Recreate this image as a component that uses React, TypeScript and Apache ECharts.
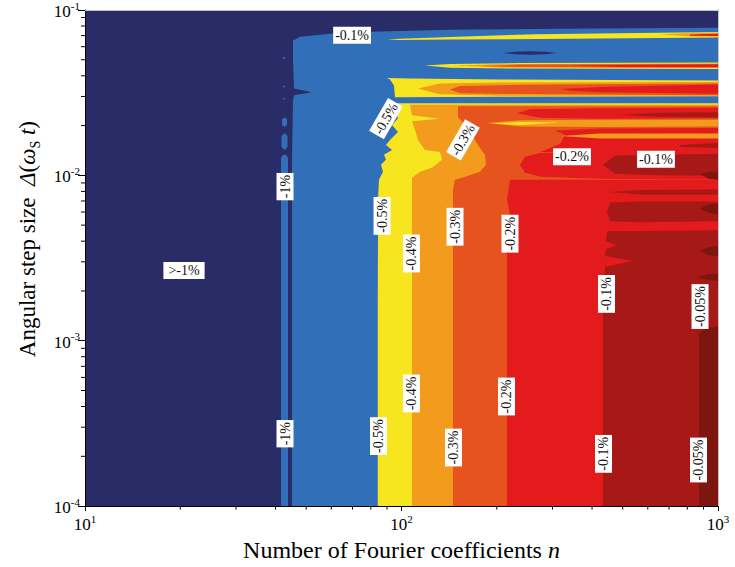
import { useEffect, useRef } from "react";
import * as echarts from "echarts";

// Vertices are [log10 n, log10 Δ(ωt)]; they are mapped through the log axes.
type Pt = [number, number];

const levelColors = ["#292c66", "#3170b8", "#f7e51f", "#f39b1c", "#e6531f", "#e31b1c", "#a61916", "#7e1610"];

const frame: Pt[] = [[1, -1], [3, -1], [3, -4], [1, -4]];

// ≥ -1 %
const blueMain: Pt[] = [[1.6572, -1.186], [1.6793, -1.162], [1.7741, -1.144], [1.9005, -1.132], [2.1532, -1.12], [2.5008, -1.114], [3, -1.108], [3, -4], [1.654, -4], [1.654, -1.906], [1.6572, -1.546], [1.6604, -1.516], [1.7172, -1.498], [1.6604, -1.474], [1.6572, -1.306]];
const navyPocket: Pt[] = [[2.3207, -1.26], [2.3586, -1.252], [2.406, -1.249], [2.4534, -1.252], [2.4913, -1.26], [2.4534, -1.268], [2.406, -1.27], [2.3586, -1.268]];
const blueStrip: Pt[] = [[1.6193, -4], [1.6414, -4], [1.6414, -1.894], [1.6351, -1.876], [1.6256, -1.876], [1.6193, -1.894]];
const blueBlobLow: Pt[] = [[1.6209, -1.762], [1.6304, -1.744], [1.6398, -1.762], [1.6398, -1.828], [1.6304, -1.846], [1.6209, -1.828]];
const blueBlobHigh: Pt[] = [[1.6225, -1.66], [1.6304, -1.648], [1.6383, -1.66], [1.6383, -1.696], [1.6304, -1.708], [1.6225, -1.696]];
const blueDotA: Pt[] = [[1.6241, -1.288], [1.6288, -1.282], [1.6335, -1.288], [1.6288, -1.3]];
const blueDotB: Pt[] = [[1.6241, -1.462], [1.6288, -1.456], [1.6335, -1.462], [1.6288, -1.468]];
const blueDotC: Pt[] = [[1.6241, -1.537], [1.6288, -1.531], [1.6335, -1.537], [1.6288, -1.543]];

// ≥ -0.5 %
const yellowTop: Pt[] = [[1.9542, -1.178], [1.9953, -1.174], [2.1532, -1.163], [2.4281, -1.146], [3, -1.133], [3, -1.166], [2.6272, -1.172], [2.1532, -1.179], [1.9953, -1.181]];
const yellowMid: Pt[] = [[2.0742, -1.336], [2.1532, -1.327], [2.3744, -1.321], [3, -1.318], [3, -1.357], [2.3744, -1.354], [2.1532, -1.349]];
const yellowBand: Pt[] = [[1.9542, -1.411], [2.0269, -1.414], [2.3112, -1.42], [3, -1.426], [3, -1.522], [2.3112, -1.525], [1.9795, -1.528], [1.9763, -1.456], [1.9637, -1.42]];
const yellowMain: Pt[] = [[1.9858, -1.564], [1.9795, -1.606], [1.9889, -1.654], [1.97, -1.696], [1.9889, -1.738], [1.9637, -1.786], [1.951, -1.816], [1.97, -1.846], [1.9447, -1.876], [1.951, -1.906], [1.9352, -1.936], [1.9415, -1.978], [1.9289, -2.026], [1.9257, -2.146], [1.9257, -2.386], [1.925, -2.746], [1.925, -4], [3, -4], [3, -1.564]];

// ≥ -0.4 %
const orangeTop: Pt[] = [[2.8167, -1.146], [2.9115, -1.14], [3, -1.137], [3, -1.16], [2.9115, -1.158]];
const orangeMid: Pt[] = [[2.1627, -1.336], [2.3112, -1.328], [3, -1.324], [3, -1.351], [2.3112, -1.348]];
const orangeBand: Pt[] = [[2.0521, -1.474], [2.1216, -1.444], [2.3112, -1.438], [3, -1.435], [3, -1.519], [2.3112, -1.519], [2.1216, -1.51]];
const orangeMain: Pt[] = [[2.0269, -1.573], [2.0332, -1.636], [2.1216, -1.657], [2.0332, -1.672], [2.0427, -1.726], [2.0521, -1.786], [2.0742, -1.846], [2.1216, -1.858], [2.128, -1.906], [2.0964, -1.954], [2.0585, -1.978], [2.0332, -2.014], [2.0332, -4], [3, -4], [3, -1.573]];

// ≥ -0.3 %
const dkOrangeMid: Pt[] = [[2.248, -1.339], [2.3744, -1.33], [3, -1.327], [3, -1.348], [2.3744, -1.345]];
const dkOrangeBand: Pt[] = [[2.1532, -1.48], [2.1848, -1.459], [2.4692, -1.45], [3, -1.444], [3, -1.516], [2.4692, -1.51], [2.1848, -1.504]];
const dkOrangeMain: Pt[] = [[2.1785, -1.582], [2.1785, -1.648], [2.2006, -1.696], [2.2227, -1.756], [2.248, -1.834], [2.2638, -1.876], [2.267, -1.936], [2.248, -1.978], [2.2006, -2.008], [2.169, -2.026], [2.1627, -2.086], [2.1627, -4], [3, -4], [3, -1.582]];

// ≥ -0.2 %
const redTop: Pt[] = [[2.9115, -1.148], [3, -1.143], [3, -1.157], [2.9115, -1.155]];
const redMid: Pt[] = [[2.5324, -1.337], [2.6904, -1.332], [3, -1.33], [3, -1.345], [2.6904, -1.344]];
const redBand: Pt[] = [[2.5008, -1.477], [2.6272, -1.465], [3, -1.45], [3, -1.507], [2.6272, -1.498], [2.5324, -1.489]];
const redUpperA: Pt[] = [[2.3649, -1.624], [2.406, -1.6], [2.6272, -1.594], [3, -1.591], [3, -1.654], [2.6272, -1.657], [2.4376, -1.651]];
const redUpperB: Pt[] = [[2.485, -1.729], [2.6272, -1.717], [3, -1.714], [3, -1.858], [2.4376, -1.858], [2.5008, -1.81], [2.5166, -1.756]];
const redUpperC: Pt[] = [[2.3744, -1.936], [2.3902, -1.888], [2.4376, -1.864], [2.6272, -1.852], [3, -1.846], [3, -2.026], [2.6272, -2.02], [2.4376, -2.008], [2.3902, -1.984]];
const redMain: Pt[] = [[2.3428, -2.026], [3, -2.026], [3, -4], [2.3333, -4], [2.3333, -2.506], [2.3302, -2.296], [2.3428, -2.236], [2.3333, -2.146]];

// weaker streaks lying inside the -0.2 % area
const orangeStreakA: Pt[] = [[2.2701, -1.684], [2.3744, -1.666], [2.6272, -1.663], [3, -1.663], [3, -1.705], [2.6272, -1.708], [2.3744, -1.705]];
const yellowStreak: Pt[] = [[2.2796, -1.687], [2.3744, -1.678], [2.5008, -1.681], [2.3744, -1.696]];
const orangeStreakB: Pt[] = [[2.5008, -1.762], [2.6272, -1.747], [3, -1.747], [3, -1.777], [2.6272, -1.777]];

// ≥ -0.1 %
const dkRedA: Pt[] = [[2.6904, -1.633], [2.8167, -1.621], [3, -1.618], [3, -1.648], [2.8167, -1.645]];
const dkRedB: Pt[] = [[2.8799, -1.816], [3, -1.804], [3, -1.834], [2.8799, -1.828]];
const dkRedC: Pt[] = [[2.6367, -1.936], [2.6746, -1.882], [2.8167, -1.876], [3, -1.87], [3, -2.002], [2.8167, -1.999], [2.6746, -1.99]];
const dkRedD: Pt[] = [[2.6588, -2.101], [2.7536, -2.089], [3, -2.086], [3, -2.116], [2.7536, -2.116]];
const dkRedE: Pt[] = [[2.6493, -2.224], [2.6588, -2.164], [2.7536, -2.158], [3, -2.158], [3, -2.278], [2.7536, -2.284], [2.6588, -2.278]];
const dkRedMain: Pt[] = [[2.6493, -2.338], [3, -2.332], [3, -4], [2.6367, -4], [2.6367, -2.746], [2.643, -2.554], [2.7315, -2.518], [2.643, -2.488], [2.6461, -2.446], [2.6809, -2.422], [2.6461, -2.398]];

// ≥ -0.05 %
const darkestMain: Pt[] = [[2.94, -4], [2.94, -2.956], [2.9589, -2.926], [3, -2.914], [3, -4]];
const darkestA: Pt[] = [[2.9431, -1.99], [2.97, -1.98], [3, -1.978], [3, -2.026], [2.97, -2.02]];
const darkestB: Pt[] = [[2.9431, -2.2], [2.97, -2.175], [3, -2.17], [3, -2.236], [2.97, -2.226]];
const darkestC: Pt[] = [[2.9431, -2.458], [2.97, -2.434], [3, -2.428], [3, -2.488], [2.97, -2.482]];
const darkestD: Pt[] = [[2.9336, -2.614], [2.97, -2.598], [3, -2.596], [3, -2.638], [2.97, -2.635]];

// paint order: [level, outline]
const regions: [number, Pt[]][] = [
  [0, frame],
  [1, blueMain], [0, navyPocket], [1, blueStrip], [1, blueBlobLow], [1, blueBlobHigh], [1, blueDotA], [1, blueDotB], [1, blueDotC],
  [2, yellowTop], [2, yellowMid], [2, yellowBand], [2, yellowMain],
  [3, orangeTop], [3, orangeMid], [3, orangeBand], [3, orangeMain],
  [4, dkOrangeMid], [4, dkOrangeBand], [4, dkOrangeMain],
  [5, redTop], [5, redMid], [5, redBand], [5, redUpperA], [5, redUpperB], [5, redUpperC], [5, redMain],
  [3, orangeStreakA], [2, yellowStreak], [3, orangeStreakB],
  [6, dkRedA], [6, dkRedB], [6, dkRedC], [6, dkRedD], [6, dkRedE], [6, dkRedMain],
  [7, darkestMain], [7, darkestA], [7, darkestB], [7, darkestC], [7, darkestD],
];

// contour labels: n, Δ(ωt), text, angle in degrees
const contourLabels: [number, number, string, number][] = [
  [20.55, 0.00266, ">-1%", 0],
  [42.85, 0.00855, "-1%", 90],
  [42.85, 0.000274, "-1%", 90],
  [69.8, 0.0703, "-0.1%", 0],
  [89.3, 0.022, "-0.5%", 60],
  [156.4, 0.01637, "-0.3%", 60],
  [345.7, 0.01294, "-0.2%", 0],
  [636.8, 0.0125, "-0.1%", 0],
  [86.8, 0.00569, "-0.5%", 90],
  [107.5, 0.00337, "-0.4%", 90],
  [147.6, 0.00489, "-0.3%", 90],
  [220.2, 0.00444, "-0.2%", 90],
  [444.4, 0.00192, "-0.1%", 90],
  [877.4, 0.00161, "-0.05%", 90],
  [107.5, 0.00048, "-0.4%", 90],
  [214.7, 0.00046, "-0.2%", 90],
  [84.6, 0.000265, "-0.5%", 90],
  [146.0, 0.000226, "-0.3%", 90],
  [434.8, 0.000207, "-0.1%", 90],
  [867.9, 0.00019, "-0.05%", 90],
];

const nMinorTicks = [20, 30, 40, 50, 60, 70, 80, 90, 200, 300, 400, 500, 600, 700, 800, 900];
const dtMinorTicks = [
  2e-4, 3e-4, 4e-4, 5e-4, 6e-4, 7e-4, 8e-4, 9e-4,
  2e-3, 3e-3, 4e-3, 5e-3, 6e-3, 7e-3, 8e-3, 9e-3,
  2e-2, 3e-2, 4e-2, 5e-2, 6e-2, 7e-2, 8e-2, 9e-2,
];

const serif = '"Liberation Serif", "Times New Roman", serif';

const tickRich = {
  b: { fontFamily: serif, fontSize: 17, color: "#000", lineHeight: 20, verticalAlign: "bottom" },
  s: { fontFamily: serif, fontSize: 11, color: "#000", lineHeight: 11, verticalAlign: "top" },
};

const makeNameRich = (size: number) => ({
  t: { fontFamily: serif, fontSize: size, color: "#000", lineHeight: size + 4, verticalAlign: "top" },
  i: { fontFamily: serif, fontSize: size, fontStyle: "italic", color: "#000", lineHeight: size + 4, verticalAlign: "top" },
  s: { fontFamily: serif, fontSize: 14, color: "#000", lineHeight: size + 4, verticalAlign: "bottom" },
});

const powerLabel = (v: number) => `{b|10}{s|${Math.round(Math.log10(v))}}`;

function buildOption() {
  return {
    animation: false,
    backgroundColor: "#fff",
    grid: { left: 85, top: 9, right: 17, bottom: 58 },
    xAxis: [
      {
        type: "log", logBase: 10, min: 10, max: 1000, position: "bottom", z: 10,
        axisLine: { show: true, onZero: false, lineStyle: { color: "#000", width: 1 } },
        axisTick: { show: true, length: 5, lineStyle: { color: "#000" } },
        splitLine: { show: false },
        axisLabel: { margin: 7, formatter: powerLabel, rich: tickRich },
        name: "{t|Number of Fourier coefficients }{i|n}",
        nameLocation: "middle", nameGap: 20,
        nameTextStyle: { rich: makeNameRich(24), fontFamily: serif, fontSize: 24, color: "#000" },
      },
      {
        type: "log", logBase: 10, min: 10, max: 1000, position: "top", z: 10,
        axisLine: { show: true, onZero: false, lineStyle: { color: "#c4c4c4", width: 1 } },
        axisTick: { show: false }, axisLabel: { show: false }, splitLine: { show: false },
      },
    ],
    yAxis: [
      {
        type: "log", logBase: 10, min: 1e-4, max: 1e-1, position: "left", z: 10,
        axisLine: { show: true, onZero: false, lineStyle: { color: "#000", width: 1 } },
        axisTick: { show: true, length: 7, lineStyle: { color: "#000" } },
        splitLine: { show: false },
        axisLabel: { margin: 5, formatter: powerLabel, rich: tickRich },
        name: "{t|Angular step size  }{i|Δ}{t|(}{i|ω}{s|S}{t| }{i|t}{t|)}",
        nameLocation: "middle", nameGap: 36,
        nameTextStyle: { rich: makeNameRich(23), fontFamily: serif, fontSize: 23, color: "#000", padding: [0, 0, 0, 38] },
      },
      {
        type: "log", logBase: 10, min: 1e-4, max: 1e-1, position: "right", z: 10,
        axisLine: { show: true, onZero: false, lineStyle: { color: "#c4c4c4", width: 1 } },
        axisTick: { show: false }, axisLabel: { show: false }, splitLine: { show: false },
      },
    ],
    series: [
      {
        type: "custom",
        silent: true,
        z: 1,
        clip: true,
        data: regions.map(([, pts]) => [Math.pow(10, pts[0][0]), Math.pow(10, pts[0][1])]),
        renderItem: (params: any, api: any) => {
          const [level, pts] = regions[params.dataIndex];
          return {
            type: "polygon",
            shape: { points: pts.map(([a, b]) => api.coord([Math.pow(10, a), Math.pow(10, b)])) },
            style: { fill: levelColors[level], stroke: null },
          };
        },
      },
      {
        type: "custom",
        silent: true,
        z: 12,
        clip: false,
        data: nMinorTicks.map((n) => [n, 1e-4]),
        renderItem: (_p: any, api: any) => {
          const c = api.coord([api.value(0), api.value(1)]);
          return { type: "line", shape: { x1: c[0], y1: c[1], x2: c[0], y2: c[1] + 3.5 }, style: { stroke: "#000", lineWidth: 1 } };
        },
      },
      {
        type: "custom",
        silent: true,
        z: 12,
        clip: false,
        data: dtMinorTicks.map((d) => [10, d]),
        renderItem: (_p: any, api: any) => {
          const c = api.coord([api.value(0), api.value(1)]);
          return { type: "line", shape: { x1: c[0] - 4, y1: c[1], x2: c[0], y2: c[1] }, style: { stroke: "#000", lineWidth: 1 } };
        },
      },
      {
        // contour level labels on white boxes
        type: "scatter",
        silent: true,
        z: 8,
        symbolSize: 1,
        itemStyle: { color: "rgba(0,0,0,0)", opacity: 1 },
        data: contourLabels.map(([n, d, text, angle]) => ({
          value: [n, d],
          label: {
            rotate: angle,
            formatter: text,
            padding: text === ">-1%" ? [2, 5, 1, 5] : [2, 2, 1, 2],
          },
        })),
        label: {
          show: true,
          position: "inside",
          fontFamily: serif,
          fontSize: 14,
          color: "#111",
          backgroundColor: "#fff",
          align: "center",
          verticalAlign: "middle",
        },
        labelLayout: { hideOverlap: false },
      },
    ],
  };
}

export default function App() {
  const ref = useRef<HTMLDivElement>(null);
  useEffect(() => {
    if (!ref.current) return;
    const chart = echarts.init(ref.current, null, { renderer: "svg" });
    chart.setOption(buildOption() as any);
    return () => chart.dispose();
  }, []);
  return <div ref={ref} style={{ position: "fixed", left: 0, top: 0, width: 735, height: 567 }} />;
}
